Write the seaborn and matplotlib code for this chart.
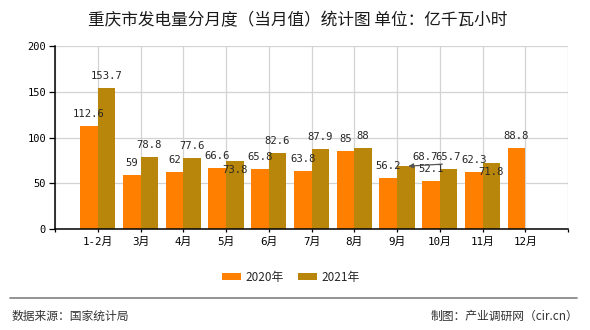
import numpy as np
import pandas as pd
import matplotlib
matplotlib.use("Agg")
import matplotlib.pyplot as plt
import seaborn as sns
from matplotlib.patches import Patch

categories = ["1-2月", "3月", "4月", "5月", "6月", "7月", "8月", "9月", "10月", "11月", "12月"]
values_2020 = [112.6, 59, 62, 66.6, 65.8, 63.8, 85, 56.2, 52.1, 62.3, 88.8]
values_2021 = [153.7, 78.8, 77.6, 73.8, 82.6, 87.9, 88, 68.7, 65.7, 71.8, np.nan]
series = ["2020年", "2021年"]
colors = ["#FF8000", "#B8860B"]
title = "重庆市发电量分月度（当月值）统计图 单位：亿千瓦小时"
source_text = "数据来源：国家统计局"
maker_text = "制图：产业调研网（cir.cn）"
y_ticks = [0, 50, 100, 150, 200]

df = pd.DataFrame({
    "月份": categories * 2,
    "值": values_2020 + values_2021,
    "年份": [series[0]] * len(categories) + [series[1]] * len(categories),
})

sns.set_theme(style="white")
plt.rcParams["font.family"] = ["Noto Sans CJK SC", "DejaVu Sans"]
MONO = ["DejaVu Sans Mono", "Noto Sans CJK SC"]

fig = plt.figure(figsize=(5.9, 3.3), dpi=100)
ax = fig.add_axes([55 / 590, 1 - 229 / 330, (568 - 55) / 590, (229 - 46) / 330])

sns.barplot(data=df, x="月份", y="值", hue="年份", order=categories, hue_order=series,
            palette=colors, width=0.82, saturation=1, ax=ax, legend=False, zorder=3,
            linewidth=0, edgecolor="none")

ax.set_xlim(-1, 11)
ax.set_ylim(0, 200)
ax.set_yticks(y_ticks)
ax.set_yticklabels([str(v) for v in y_ticks], family=MONO, fontsize=7.5, color="black")
ax.set_xticks(range(-1, 12))
ax.set_xticklabels([""] + categories + [""], family=MONO, fontsize=7.8, color="black")
ax.tick_params(axis="y", length=4.5, width=0.9, color="black", pad=2, left=True)
ax.tick_params(axis="x", length=2.5, width=0.9, color="black", pad=3, bottom=True)
ax.set_xlabel("")
ax.set_ylabel("")
ax.grid(True, color="#d3d3d3", linewidth=0.9, zorder=0)
for s in ["top", "right"]:
    ax.spines[s].set_visible(False)
for s in ["left", "bottom"]:
    ax.spines[s].set_color("black")
    ax.spines[s].set_linewidth(1.1)
    ax.spines[s].set_zorder(5)

# value labels: offsets in pixels for specific labels
special = {
    (1, "5月"): (0, -9),
    (1, "11月"): (0, -9),
}
for si, (cont, vals) in enumerate(zip(ax.containers, [values_2020, values_2021])):
    for bar, cat, v in zip(cont, categories, vals):
        if v is None or (isinstance(v, float) and np.isnan(v)):
            continue
        xc = bar.get_x() + bar.get_width() / 2
        txt = f"{v:g}"
        if si == 1 and cat == "9月":
            ax.annotate("", xy=(xc + 0.06, v), xytext=(34, 2), textcoords="offset pixels",
                        arrowprops=dict(arrowstyle="-|>", color="#555555", lw=0.9,
                                        mutation_scale=7, shrinkA=0, shrinkB=0), zorder=6)
            ax.annotate(txt, xy=(xc, v), xytext=(19, 9), textcoords="offset pixels",
                        ha="center", va="center", family=MONO, fontsize=7.6, zorder=6)
            continue
        dx, dy = special.get((si, cat), (0, 12))
        ax.annotate(txt, xy=(xc, v), xytext=(dx, dy), textcoords="offset pixels",
                    ha="center", va="center", family=MONO, fontsize=7.6, zorder=6)

fig.text(298 / 590, 1 - 21 / 330, title, ha="center", va="center", fontsize=12,
         color="#1a1a1a", fontweight="medium")

# legend
handles = [Patch(facecolor=c, edgecolor="none") for c in colors]
fig.legend(handles, series, loc="center", bbox_to_anchor=(291 / 590, 1 - 277 / 330), ncol=2,
           frameon=False, fontsize=8.5, handlelength=1.6, handleheight=0.6,
           handletextpad=0.4, columnspacing=1.2)

# separator and footer
fig.add_artist(plt.Line2D([10 / 590, 577 / 590], [1 - 298 / 330, 1 - 298 / 330],
                          color="#808080", linewidth=1.2))
fig.text(12 / 590, 1 - 316 / 330, source_text, ha="left", va="center", fontsize=8.5, color="#333333")
fig.text(578 / 590, 1 - 316 / 330, maker_text, ha="right", va="center", fontsize=8.5, color="#333333")

fig.savefig("out.png", dpi=100, facecolor="white")
